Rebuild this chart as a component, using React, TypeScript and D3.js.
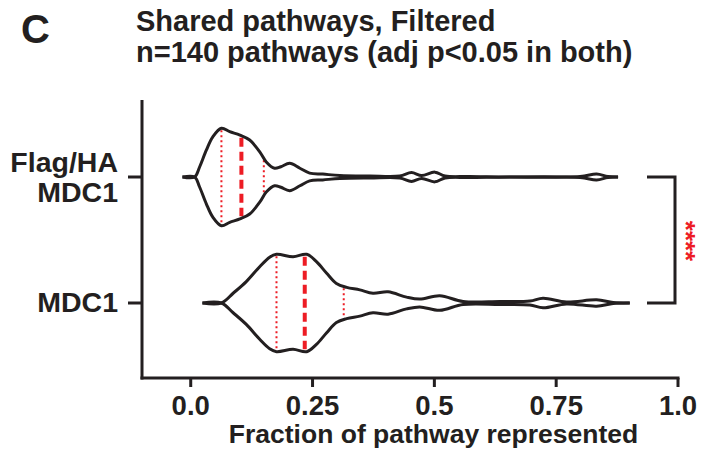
import React from "react";
import * as d3 from "d3";

// ---- data ----
const categories = ["Flag/HA MDC1", "MDC1"];
const categoryLabelLines = [["Flag/HA", "MDC1"], ["MDC1"]];

// violin outline profiles: value along x, relative density (max = 1)
const flagValues = [-0.017, 0.008, 0.018, 0.032, 0.045, 0.063, 0.08, 0.101, 0.121, 0.142, 0.155, 0.172, 0.185, 0.203, 0.224, 0.244, 0.271, 0.306, 0.368, 0.429, 0.453, 0.474, 0.501, 0.522, 0.573, 0.799, 0.833, 0.856, 0.877];
const flagDensity = [0, 0, 0.2, 0.55, 0.82, 1.0, 0.93, 0.86, 0.76, 0.51, 0.31, 0.18, 0.21, 0.28, 0.18, 0.08, 0.06, 0.03, 0.02, 0.02, 0.09, 0.03, 0.1, 0.02, 0.01, 0.01, 0.06, 0.01, 0];

const mdc1Values = [0.024, 0.063, 0.087, 0.114, 0.142, 0.162, 0.176, 0.21, 0.238, 0.258, 0.279, 0.299, 0.32, 0.347, 0.374, 0.405, 0.443, 0.47, 0.511, 0.559, 0.634, 0.696, 0.723, 0.771, 0.833, 0.867, 0.901];
const mdc1Density = [0, 0, 0.2, 0.44, 0.75, 0.94, 1.0, 0.95, 1.0, 0.85, 0.61, 0.4, 0.32, 0.27, 0.2, 0.23, 0.12, 0.08, 0.15, 0.03, 0.03, 0.04, 0.1, 0.02, 0.065, 0.01, 0];

// quartiles [Q1, median, Q3]
const flagQuartiles = [0.063, 0.104, 0.15];
const mdc1Quartiles = [0.176, 0.234, 0.314];

const xTicks = [0, 0.25, 0.5, 0.75, 1.0];
const xTickLabels = ["0.0", "0.25", "0.5", "0.75", "1.0"];

const titleLines = ["Shared pathways, Filtered", "n=140 pathways (adj p<0.05 in both)"];
const panelLetter = "C";
const xAxisTitle = "Fraction of pathway represented";
const significance = "****";

// ---- style ----
const INK = "#231f20";
const RED = "#ed1c24";
const FONT = "'Liberation Sans', Arial, Helvetica, sans-serif";

const W = 701;
const H = 450;

export default function App() {
  const x = d3.scaleLinear().domain([-0.1, 1.0]).range([142, 678]);
  const y = d3.scalePoint<string>().domain(categories).range([177, 303]);
  const w = d3.scaleLinear().domain([0, 1]).range([0, 48.7]);

  const series = [
    { cat: categories[0], values: flagValues, dens: flagDensity, q: flagQuartiles },
    { cat: categories[1], values: mdc1Values, dens: mdc1Density, q: mdc1Quartiles },
  ];

  const interp = (vals: number[], dens: number[], v: number) => {
    for (let i = 0; i < vals.length - 1; i++) {
      if (v >= vals[i] && v <= vals[i + 1]) {
        const t = (v - vals[i]) / (vals[i + 1] - vals[i]);
        return dens[i] + t * (dens[i + 1] - dens[i]);
      }
    }
    return 0;
  };

  const axisTop = 100;
  const axisBottom = 378;

  return (
    <svg
      width={W}
      height={H}
      viewBox={`0 0 ${W} ${H}`}
      style={{ position: "absolute", left: 0, top: 0, background: "#fff" }}
      fontFamily={FONT}
    >
      <rect x={0} y={0} width={W} height={H} fill="#fff" />
      {/* panel letter + title */}
      <text x={21} y={43} fontSize={40} fontWeight="bold" fill={INK}>
        {panelLetter}
      </text>
      {titleLines.map((t, i) => (
        <text key={i} x={136} y={31 + i * 31} fontSize={29} fontWeight="bold" fill={INK}>
          {t}
        </text>
      ))}

      {/* violins */}
      {series.map((s) => {
        const cy = y(s.cat) as number;
        const pts = s.values.map((v, i) => [v, s.dens[i]] as [number, number]);
        const upper = d3
          .line<[number, number]>()
          .x((d) => x(d[0]))
          .y((d) => cy - w(d[1]))
          .curve(d3.curveCatmullRom.alpha(0.5));
        const lower = d3
          .line<[number, number]>()
          .x((d) => x(d[0]))
          .y((d) => cy + w(d[1]))
          .curve(d3.curveCatmullRom.alpha(0.5));
        return (
          <g key={s.cat}>
            {s.q.map((qv, qi) => {
              const hw = w(interp(s.values, s.dens, qv));
              const isMed = qi === 1;
              return (
                <line
                  key={qi}
                  x1={x(qv)}
                  x2={x(qv)}
                  y1={cy - hw + 2}
                  y2={cy + hw - 2}
                  stroke={RED}
                  strokeWidth={isMed ? 4 : 2}
                  strokeDasharray={isMed ? "9 5" : "2 3"}
                />
              );
            })}
            <path d={upper(pts) || ""} fill="none" stroke={INK} strokeWidth={3} strokeLinejoin="round" />
            <path d={lower(pts) || ""} fill="none" stroke={INK} strokeWidth={3} strokeLinejoin="round" />
          </g>
        );
      })}

      {/* y axis */}
      <line x1={142} x2={142} y1={axisTop} y2={axisBottom + 1.5} stroke={INK} strokeWidth={3} />
      {categories.map((c, i) => {
        const cy = y(c) as number;
        const lines = categoryLabelLines[i];
        return (
          <g key={c}>
            <line x1={128} x2={142} y1={cy} y2={cy} stroke={INK} strokeWidth={3} />
            {lines.map((l, li) => (
              <text
                key={li}
                x={118}
                y={lines.length > 1 ? cy - 5 + li * 30 : cy + 9}
                textAnchor="end"
                fontSize={28.5}
                fontWeight="bold"
                fill={INK}
              >
                {l}
              </text>
            ))}
          </g>
        );
      })}

      {/* x axis */}
      <line x1={140.5} x2={x(1.0) + 1.5} y1={axisBottom} y2={axisBottom} stroke={INK} strokeWidth={3} />
      {xTicks.map((t, i) => (
        <g key={t}>
          <line x1={x(t)} x2={x(t)} y1={axisBottom} y2={axisBottom + 9} stroke={INK} strokeWidth={3} />
          <text x={x(t)} y={415} textAnchor="middle" fontSize={27.5} fontWeight="bold" fill={INK}>
            {xTickLabels[i]}
          </text>
        </g>
      ))}
      <text x={433.5} y={443} textAnchor="middle" fontSize={26.5} fontWeight="bold" fill={INK}>
        {xAxisTitle}
      </text>

      {/* significance bracket */}
      <path
        d={`M647,${y(categories[0])} H675 V${y(categories[1])} H647`}
        fill="none"
        stroke={INK}
        strokeWidth={3}
      />
      <text
        transform={`translate(677,241) rotate(90)`}
        textAnchor="middle"
        fontSize={26}
        fontWeight="bold"
        fill={RED}
      >
        {significance}
      </text>
    </svg>
  );
}
